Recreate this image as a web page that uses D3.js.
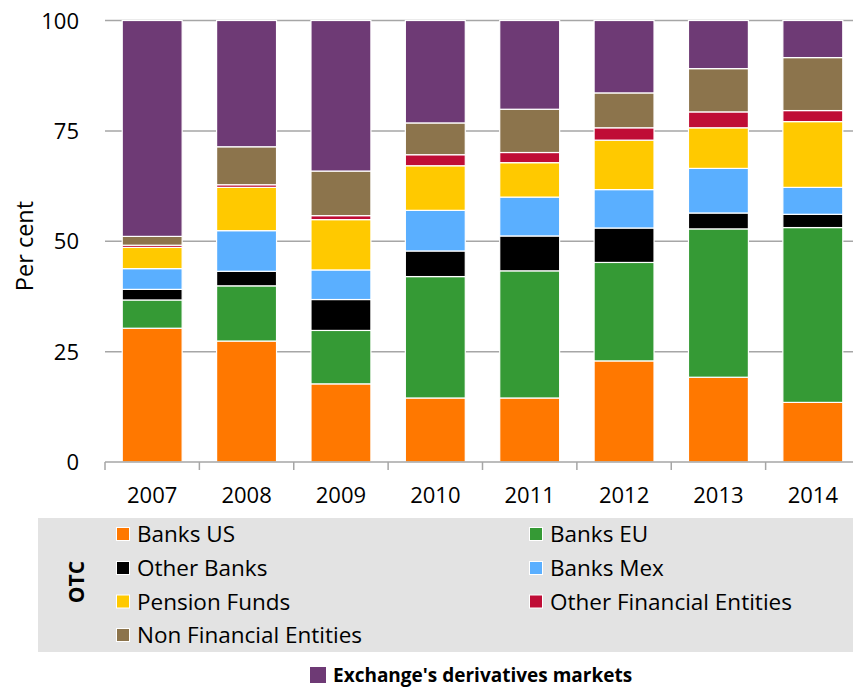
<!DOCTYPE html>
<html><head><meta charset="utf-8">
<script src="https://cdn.jsdelivr.net/npm/d3@7"></script>
<style>body{margin:0;background:#fff}svg{display:block}</style>
</head><body>
<svg id="c" width="853" height="687"></svg>
<script>
const years = ["2007","2008","2009","2010","2011","2012","2013","2014"];
const banksUS   = [30.3, 27.4, 17.7, 14.5, 14.5, 22.9, 19.2, 13.5];
const banksEU   = [6.4, 12.5, 12.1, 27.5, 28.8, 22.3, 33.6, 39.6];
const otherBanks= [2.4, 3.3, 7.0, 5.8, 7.9, 7.8, 3.6, 3.0];
const banksMex  = [4.7, 9.2, 6.7, 9.2, 8.8, 8.7, 10.1, 6.1];
const pension   = [4.8, 9.8, 11.4, 10.1, 7.8, 11.2, 9.2, 14.9];
const otherFin  = [0.5, 0.6, 0.9, 2.5, 2.3, 2.8, 3.6, 2.5];
const nonFin    = [2.0, 8.6, 10.1, 7.2, 9.8, 7.9, 9.8, 12.0];
const exchange  = [48.9, 28.6, 34.1, 23.2, 20.1, 16.4, 10.9, 8.4];
const yTicks = [0, 25, 50, 75, 100];

const seriesNames = ["Banks US","Banks EU","Other Banks","Banks Mex","Pension Funds","Other Financial Entities","Non Financial Entities","Exchange's derivatives markets"];
const seriesVals = [banksUS, banksEU, otherBanks, banksMex, pension, otherFin, nonFin, exchange];
const colors = ["#ff7800","#359a35","#000000","#5aafff","#ffc900","#bf0d36","#8c744c","#6e3a75"];

const svg = d3.select("#c");
const font = "'Open Sans', sans-serif";

const x = d3.scaleBand().domain(years).range([105, 860]).paddingInner(0.365).paddingOuter(0.1825);
const y = d3.scaleLinear().domain([0, 100]).range([462, 20.5]);

// gridlines
svg.append("g").selectAll("line").data(yTicks.filter(d => d > 0)).join("line")
  .attr("x1", 105).attr("x2", 860).attr("y1", d => y(d)).attr("y2", d => y(d))
  .attr("stroke", "#a6a6a6").attr("stroke-width", 1.5);

// stacked data
const table = years.map((yr, i) => {
  const o = {year: yr};
  seriesNames.forEach((n, j) => o[n] = seriesVals[j][i]);
  return o;
});
const stack = d3.stack().keys(seriesNames)(table);

svg.append("g").selectAll("g").data(stack).join("g")
  .attr("fill", (d, i) => colors[i])
  .selectAll("rect").data(d => d).join("rect")
  .attr("x", d => x(d.data.year))
  .attr("width", x.bandwidth())
  .attr("y", d => y(d[1]))
  .attr("height", d => y(d[0]) - y(d[1]))
  .attr("stroke", "#ffffff").attr("stroke-width", 1.2);

// x axis
const xa = svg.append("g");
xa.append("line").attr("x1", 105).attr("x2", 860).attr("y1", y(0)).attr("y2", y(0))
  .attr("stroke", "#a6a6a6").attr("stroke-width", 1.5);
const bounds = years.map(d => x(d) - x.step() * x.paddingInner() / 2);
bounds.push(860);
xa.selectAll("line.t").data(bounds).join("line").attr("class", "t")
  .attr("x1", d => d).attr("x2", d => d).attr("y1", y(0)).attr("y2", y(0) + 8)
  .attr("stroke", "#a6a6a6").attr("stroke-width", 1.5);
xa.selectAll("text").data(years).join("text")
  .attr("x", d => x(d) + x.bandwidth() / 2).attr("y", 503)
  .attr("text-anchor", "middle").attr("font-family", font).attr("font-size", 22)
  .attr("fill", "#000").text(d => d);

// y axis labels
svg.append("g").selectAll("text").data(yTicks).join("text")
  .attr("x", 79).attr("y", d => y(d) + 8)
  .attr("text-anchor", "end").attr("font-family", font).attr("font-size", 22)
  .attr("fill", "#000").text(d => d);

svg.append("text").attr("transform", "translate(33,246) rotate(-90)")
  .attr("text-anchor", "middle").attr("font-family", font).attr("font-size", 23.5)
  .text("Per cent");

// legend
svg.append("rect").attr("x", 38).attr("y", 518).attr("width", 815).attr("height", 134).attr("fill", "#e3e3e3");
svg.append("text").attr("transform", "translate(84,582) rotate(-90)")
  .attr("text-anchor", "middle").attr("font-family", font).attr("font-weight", "bold").attr("font-size", 21)
  .text("OTC");

const legendItems = seriesNames.slice(0, 7).map((n, i) => ({name: n, color: colors[i], col: i % 2, row: Math.floor(i / 2)}));
const colX = [116, 529];
const rowY = [534, 568, 601.5, 635];
const lg = svg.append("g").selectAll("g").data(legendItems).join("g")
  .attr("transform", d => `translate(${colX[d.col]},${rowY[d.row]})`);
lg.append("rect").attr("x", 0.5).attr("y", -6.5).attr("width", 13).attr("height", 13)
  .attr("fill", d => d.color).attr("stroke", "#fff").attr("stroke-width", 1);
lg.append("text").attr("x", 21).attr("y", 8).attr("font-family", font).attr("font-size", 22.5)
  .attr("fill", "#000").text(d => d.name);

const ex = svg.append("g").attr("transform", "translate(310,675)");
ex.append("rect").attr("x", 0).attr("y", -8).attr("width", 16).attr("height", 16).attr("fill", colors[7]);
ex.append("text").attr("x", 23).attr("y", 7).attr("font-family", font).attr("font-weight", "bold").attr("font-size", 19)
  .text(seriesNames[7]);
</script>
</body></html>
